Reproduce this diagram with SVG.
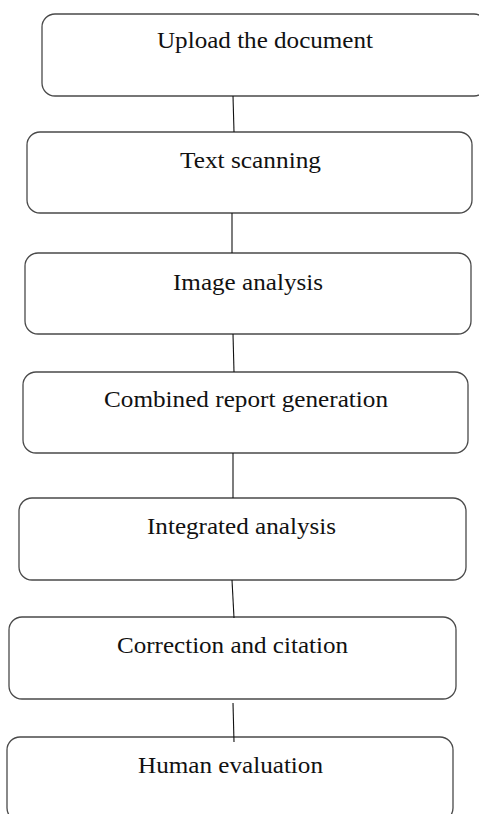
<svg xmlns="http://www.w3.org/2000/svg" width="479" height="814" viewBox="0 0 479 814">
<style>
.box{fill:#fff;stroke:#4a4a4a;stroke-width:1.3}
.lbl{font-family:"Liberation Serif","Times New Roman",serif;font-size:23px;fill:#111;text-anchor:middle}
.con line{stroke:#111;stroke-width:1.1}
</style>
<rect width="479" height="814" fill="#fff"/>
<g id="n1"><rect class="box" x="42" y="14" width="445" height="82" rx="13"/><text class="lbl" x="265" y="48" textLength="216" lengthAdjust="spacingAndGlyphs">Upload the document</text></g>
<g id="n2"><rect class="box" x="27" y="132" width="445" height="81" rx="13"/><text class="lbl" x="250.5" y="168" textLength="141" lengthAdjust="spacingAndGlyphs">Text scanning</text></g>
<g id="n3"><rect class="box" x="25" y="253" width="446" height="81" rx="13"/><text class="lbl" x="248" y="290" textLength="150" lengthAdjust="spacingAndGlyphs">Image analysis</text></g>
<g id="n4"><rect class="box" x="23" y="372" width="445" height="81" rx="13"/><text class="lbl" x="246" y="407" textLength="284" lengthAdjust="spacingAndGlyphs">Combined report generation</text></g>
<g id="n5"><rect class="box" x="19" y="498" width="447" height="82" rx="13"/><text class="lbl" x="241.5" y="534" textLength="189" lengthAdjust="spacingAndGlyphs">Integrated analysis</text></g>
<g id="n6"><rect class="box" x="9" y="617" width="447" height="82" rx="13"/><text class="lbl" x="232.5" y="653" textLength="231" lengthAdjust="spacingAndGlyphs">Correction and citation</text></g>
<g id="n7"><rect class="box" x="7" y="737" width="446" height="84" rx="13"/><text class="lbl" x="230.5" y="773" textLength="185" lengthAdjust="spacingAndGlyphs">Human evaluation</text></g>
<g id="connectors" class="con">
<line x1="233" y1="96" x2="234" y2="132"/>
<line x1="232" y1="213" x2="232" y2="253"/>
<line x1="233" y1="334" x2="234" y2="372"/>
<line x1="233" y1="453" x2="233" y2="498"/>
<line x1="232" y1="580" x2="234" y2="618"/>
<line x1="233" y1="703" x2="234" y2="742"/>
</g>
</svg>
